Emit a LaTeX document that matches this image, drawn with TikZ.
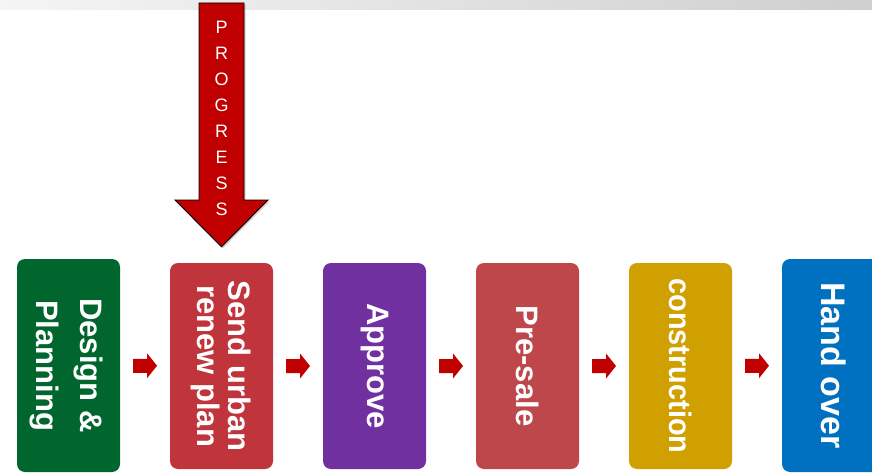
\documentclass[tikz,border=0pt]{standalone}
\usepackage{fontspec}
\setmainfont{Liberation Sans}
\usetikzlibrary{calc,shadows}
\definecolor{stepgreen}{HTML}{00662E}
\definecolor{stepred}{HTML}{C0343C}
\definecolor{steppurple}{HTML}{7030A0}
\definecolor{steprose}{HTML}{BD474A}
\definecolor{stepgold}{HTML}{D09F00}
\definecolor{stepblue}{HTML}{0070C0}
\definecolor{arrowred}{HTML}{C00000}
\tikzset{
  stepbox/.style={rounded corners=8pt, minimum width=103pt, minimum height=206pt,
    inner sep=0pt, draw=none},
  steptext/.style={rotate=-90, align=center, text=white, inner sep=0pt,
    font=\bfseries\fontsize{31}{31}\selectfont},
  linkarrow/.style={fill=arrowred, draw=none},
}
\begin{document}
\begin{tikzpicture}[x=1pt, y=-1pt]
  \useasboundingbox (0,0) rectangle (872,473);
  \clip (0,0) rectangle (872,473);
  % header strip
  \shade[left color=white!96!black, right color=black!19] (0,0) rectangle (872,10);

  % process steps
  \node[stepbox, fill=stepgreen, minimum height=213pt] (b1) at (68.5,365.5) {};
  \node[stepbox, fill=stepred]    (b2) at (221.5,366) {};
  \node[stepbox, fill=steppurple] (b3) at (374.5,366) {};
  \node[stepbox, fill=steprose]   (b4) at (527.5,366) {};
  \node[stepbox, fill=stepgold]   (b5) at (680.5,366) {};
  \node[stepbox, fill=stepblue, minimum height=213pt] (b6) at (833.5,365.5) {};

  \node[steptext] (t1) at ($(b1.center)+(-2,0)$) {Design \&\\[13pt]Planning};
  \node[steptext] (t2) at (b2.center) {Send urban\\renew plan};
  \node[steptext] (t3) at (b3.center) {Approve};
  \node[steptext] (t4) at (b4.center) {Pre-sale};
  \node[steptext] (t5) at (b5.center) {\scalebox{0.93}[1]{construction}};
  \node[steptext, font=\bfseries\fontsize{34}{34}\selectfont] (t6) at (b6.center) {Hand over};

  % block arrows between the steps
  \foreach \a/\b in {b1/b2, b2/b3, b3/b4, b4/b5, b5/b6} {
    \coordinate (m) at ($(\a.east)!0.5!(\b.west)$);
    \fill[linkarrow, shift={(m)}]
      (-12,-7) -- (2,-7) -- (2,-12.5) -- (12,0) -- (2,12.5) -- (2,7) -- (-12,7) -- cycle;
  }

  % progress arrow pointing at the second step
  \coordinate (tip) at ($(b2.north)+(0,-16)$);
  \filldraw[fill=arrowred, draw=black, line width=0.9pt, line join=miter,
    drop shadow={shadow xshift=1.5pt, shadow yshift=-1.5pt, opacity=0.35}]
    (199,3) -- (244,3) -- (244,200) -- (268,200) -- (tip) -- (175,200) -- (199,200) -- cycle;
  \node[text=white, align=center, inner sep=0pt,
    font=\fontsize{18}{26}\selectfont] (prog) at (221.5,118)
    {P\\R\\O\\G\\R\\E\\S\\S};
\end{tikzpicture}
\end{document}
